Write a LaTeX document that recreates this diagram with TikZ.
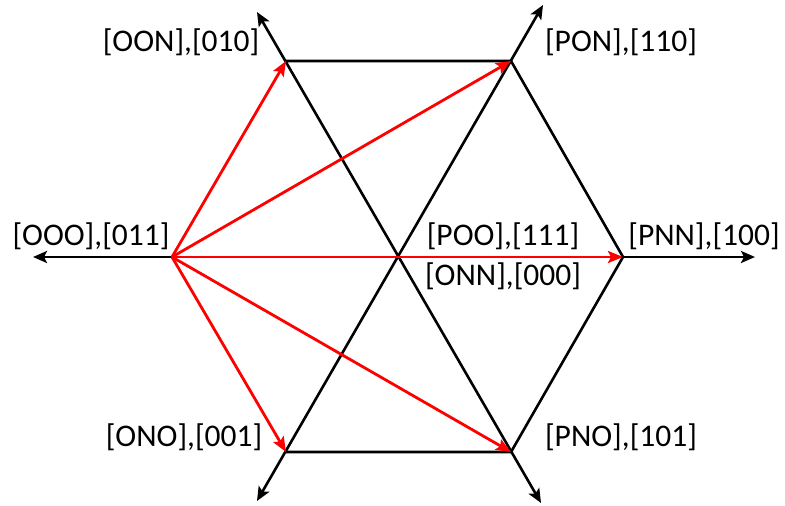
\documentclass[tikz,border=0pt]{standalone}
\usepackage{fontspec}
\setmainfont{Carlito}
\usetikzlibrary{arrows.meta}
\begin{document}
\begin{tikzpicture}[x=1pt,y=1pt,
  axis/.style={line width=2.6pt,black,{Stealth[length=14pt,width=12pt,inset=3pt]}-{Stealth[length=14pt,width=12pt,inset=3pt]}},
  edge/.style={line width=2.6pt,black,line cap=round},
  vec/.style={line width=2.8pt,red,-{Stealth[length=15pt,width=12pt,inset=3pt]}},
  lbl/.style={inner sep=0pt,font=\fontsize{31.5}{36}\selectfont}]
\useasboundingbox (0,0) rectangle (785,506);
% center and vertices
\coordinate (O) at (398,249);
\coordinate (vR) at (623,249);
\coordinate (vL) at (172,249);
\coordinate (vTL) at (286,445);
\coordinate (vTR) at (511,445);
\coordinate (vBL) at (286,54);
\coordinate (vBR) at (511,54);
% axis tips
\coordinate (tL) at (33,249);
\coordinate (tR) at (755,249);
\coordinate (tTL) at (257,494);
\coordinate (tBR) at (541,3);
\coordinate (tTR) at (543,501);
\coordinate (tBL) at (257,5);
% axes
\draw[axis] (tL) -- (tR);
\draw[axis] (tTL) -- (tBR);
\draw[axis] (tBL) -- (tTR);
% hexagon edges
\draw[edge] (vTL) -- (vTR) -- (vR) -- (vBR) -- (vBL);
% red vectors
\draw[vec] (vL) -- (vTL);
\draw[vec] (vL) -- (vTR);
\draw[vec] (vL) -- (vR);
\draw[vec] (vL) -- (vBR);
\draw[vec] (vL) -- (vBL);
% labels
\node[lbl] (lOON) at (181,464) {[OON],[010]};
\node[lbl] (lPON) at (621,464) {[PON],[110]};
\node[lbl] (lOOO) at (91,270) {[OOO],[011]};
\node[lbl] (lPOO) at (503,270) {[POO],[111]};
\node[lbl] (lONN) at (503,230) {[ONN],[000]};
\node[lbl] (lPNN) at (704,270) {[PNN],[100]};
\node[lbl] (lONO) at (184,69) {[ONO],[001]};
\node[lbl] (lPNO) at (621,69) {[PNO],[101]};
\end{tikzpicture}
\end{document}
